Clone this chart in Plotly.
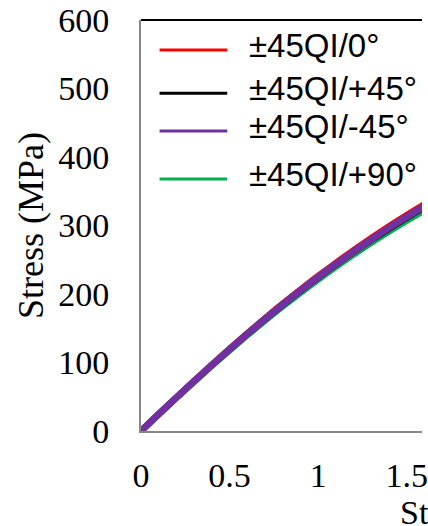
import plotly.graph_objects as go

# Strain (%) sample points shared by all four specimens
strain = [0.0, 0.1, 0.2, 0.3, 0.4, 0.5, 0.6, 0.7, 0.8, 0.9,
          1.0, 1.1, 1.2, 1.3, 1.4, 1.5, 1.6, 1.7]

# Stress (MPa) for each loading direction
stress_0 = [0, 24.8, 49.3, 73.4, 97.1, 120.3, 142.9, 164.9, 186.2, 206.8,
            226.7, 245.9, 264.4, 282.2, 299.3, 315.7, 331.4, 346.4]
stress_p45 = [0, 24.5, 48.7, 72.5, 95.9, 118.8, 141.1, 162.8, 183.8, 204.1,
              223.7, 242.6, 260.8, 278.3, 295.1, 311.2, 326.6, 341.3]
stress_m45 = [0, 24.6, 48.9, 72.8, 96.3, 119.3, 141.7, 163.5, 184.6, 205.0,
              224.7, 243.7, 262.0, 279.6, 296.5, 312.7, 328.2, 343.0]
stress_p90 = [0, 24.2, 48.1, 71.6, 94.7, 117.3, 139.3, 160.7, 181.4, 201.4,
              220.7, 239.3, 257.2, 274.4, 290.9, 306.7, 321.8, 336.2]

labels = ["±45QI/0°", "±45QI/+45°", "±45QI/-45°", "±45QI/+90°"]
colors = ["#FF0000", "#000000", "#7030A0", "#00B050"]
series = [stress_0, stress_p45, stress_m45, stress_p90]

y_ticks = [0, 100, 200, 300, 400, 500, 600]
x_ticks = [0, 0.5, 1, 1.5]

fig = go.Figure()

# drawing order: green, red, black underneath, purple on top
for idx, w in [(3, 6), (0, 6), (1, 6), (2, 7)]:
    fig.add_trace(go.Scatter(
        x=strain, y=series[idx], mode="lines", name=labels[idx],
        line=dict(color=colors[idx], width=w, shape="spline", smoothing=1),
        showlegend=False,
    ))

serif = "Liberation Serif, Times New Roman, serif"
sans = "Liberation Sans, Arial, sans-serif"

fig.update_layout(
    width=428, height=526,
    margin=dict(l=141, r=0, t=20, b=95),
    paper_bgcolor="white", plot_bgcolor="white",
    showlegend=False,
    xaxis=dict(
        range=[0, 1.586], tickvals=x_ticks, ticktext=["0", "0.5", "1", "1.5"],
        showgrid=False, zeroline=False, showline=True,
        linecolor="#878787", linewidth=2, ticks="",
        ticklabelstandoff=13, ticklabeloverflow="allow",
        tickfont=dict(family=serif, size=34, color="black"),
    ),
    yaxis=dict(
        range=[0, 600], tickvals=y_ticks,
        showgrid=False, zeroline=False, showline=True,
        linecolor="#878787", linewidth=2, ticks="",
        ticklabelstandoff=23, ticklabeloverflow="allow",
        tickfont=dict(family=serif, size=34, color="black"),
        title=dict(text="Stress (MPa)", font=dict(family=serif, size=36, color="black"),
                   standoff=4),
    ),
)

# black border along the top of the plot area
fig.add_shape(type="line", xref="paper", yref="paper", x0=0, x1=1, y0=1, y1=1,
              line=dict(color="black", width=2))

# x axis title
fig.add_annotation(text="Strain (%)", xref="paper", yref="paper",
                   x=(403 - 141) / 287, y=-0.2, xanchor="left", yanchor="middle",
                   showarrow=False, font=dict(family=serif, size=34, color="black"))

# legend drawn inside the plot area
legend_rows = [0.927, 0.822, 0.730, 0.613]
for lab, col, yy in zip(labels, colors, legend_rows):
    fig.add_shape(type="line", xref="paper", yref="paper",
                  x0=0.066, x1=0.307, y0=yy, y1=yy,
                  line=dict(color=col, width=3))
    fig.add_annotation(text=lab, xref="paper", yref="paper",
                       x=0.376, y=yy + 0.012, xanchor="left", yanchor="middle",
                       showarrow=False, font=dict(family=sans, size=33, color="black"))

fig.write_html("out.html")
